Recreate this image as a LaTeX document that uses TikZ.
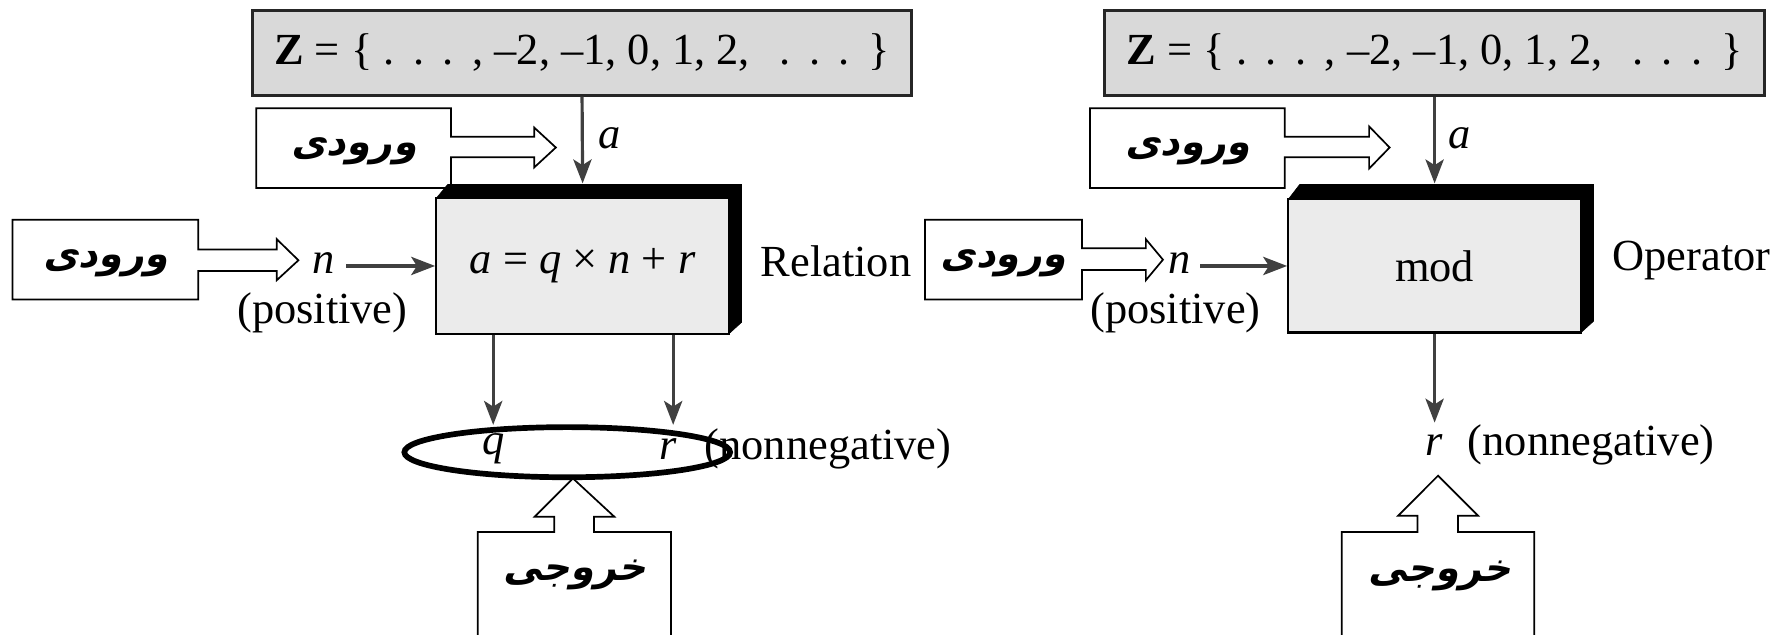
\documentclass[tikz,border=0pt]{standalone}
\usepackage{fontspec}
\setmainfont{Liberation Serif}[ItalicFont={Liberation Serif Italic},BoldFont={Liberation Serif Bold}]
\newfontfamily\arabicfont[Script=Arabic,FakeSlant=0.2]{DejaVu Sans Bold}
\TeXXeTstate=1
\usetikzlibrary{arrows.meta}
\definecolor{zgray}{RGB}{217,217,217}
\definecolor{facegray}{RGB}{235,235,235}
\definecolor{arrowgray}{RGB}{64,64,64}
\tikzset{
  arr/.style={draw=arrowgray, line width=2.8pt, -{Stealth[length=21pt,width=16pt,inset=5pt]}},
  callout/.style={draw=black, line width=1.5pt, fill=white, line join=miter},
  zbox/.style={draw=black!85, line width=2.5pt, fill=zgray, inner sep=0pt, font=\fontsize{39}{44}\selectfont},
  face/.style={draw=black, line width=2pt, fill=facegray, inner sep=0pt, font=\fontsize{39}{44}\selectfont},
  shadow/.style={fill=black, draw=black, line width=0.5pt},
  lbl/.style={font=\fontsize{39}{44}\selectfont, inner sep=0pt},
  fa/.style={font=\arabicfont\fontsize{34}{40}\selectfont, inner sep=0pt},
  ring/.style={draw=black, line width=5pt},
}
\newcommand{\zset}{\textbf{Z} = \{ .\,\ .\,\ .\,\ , –2, –1, 0, 1, 2, \ \,.\,\ .\,\ .\,\ \}}
\begin{document}
\begin{tikzpicture}[x=1pt,y=-1pt]
\useasboundingbox (0,0) rectangle (1568,557);
% ================= LEFT =================
\node[zbox, minimum width=578pt, minimum height=74pt] (zL) at (511,46.5) {\zset};
% input callout top
\draw[callout] (225,95) -- (396,95) -- (396,120) -- (469,120) -- (469,112) -- (488,129.5) -- (469,147) -- (469,138) -- (396,138) -- (396,165) -- (225,165) -- cycle;
\node[fa] (inLa) at (311,133) {\beginR ورودی\endR};
% input callout left
\draw[callout] (11,193) -- (174,193) -- (174,219) -- (243,219) -- (243,210) -- (262,228.5) -- (243,246) -- (243,238) -- (174,238) -- (174,263) -- (11,263) -- cycle;
\node[fa] (inLn) at (93,231) {\beginR ورودی\endR};
% main box with 3D shadow
\draw[shadow] (383,174) -- (393,162) -- (651,162) -- (651,283) -- (640,293) -- (640,174) -- cycle;
\node[face, minimum width=257pt, minimum height=119pt] (faceL) at (511.5,233.5) {\textit{a} = \textit{q} × \textit{n} + \textit{r}};
\coordinate (topL) at (511.5,161);
\node[lbl] (aL) at (535,121) {\textit{a}};
\node[lbl] (nL) at (284,231) {\textit{n}};
\node[lbl] (posL) at (283,275) {(positive)};
\node[lbl] (relL) at (734,229) {Relation};
\node[lbl] (qL) at (433,394) {\textit{q}};
\node[lbl] (rL) at (587,394) {\textit{r}};
\node[lbl] (nonL) at (727,394) {(nonnegative)};
\coordinate (qtip) at (433,373);
\coordinate (rtip) at (591,373);
\draw[arr] (zL.south) -- (topL);
\draw[arr] ([xshift=10pt]nL.east |- faceL.west) -- (faceL.west);
\draw[arr] (faceL.south -| qtip) -- (qtip);
\draw[arr] (faceL.south -| rtip) -- (rtip);
\draw[ring] (498,397) ellipse [x radius=143pt, y radius=22pt];
% output callout
\draw[callout] (419.5,560) -- (419.5,467) -- (486.6,467) -- (486.6,453.6) -- (469.4,453.6) -- (503,420) -- (539.3,453.6) -- (521.5,453.6) -- (521.5,467) -- (589,467) -- (589,560);
\node[fa] (outL) at (505,505) {\beginR خروجی\endR};
% ================= RIGHT =================
\node[zbox, minimum width=579pt, minimum height=75pt] (zR) at (1259.5,46.5) {\zset};
\draw[callout] (957,95) -- (1128,95) -- (1128,120) -- (1202,120) -- (1202,111) -- (1220,129.5) -- (1202,148) -- (1202,138) -- (1128,138) -- (1128,165) -- (957,165) -- cycle;
\node[fa] (inRa) at (1043,133) {\beginR ورودی\endR};
\draw[callout] (812,193) -- (950,193) -- (950,218) -- (1006,218) -- (1006,210) -- (1021,228) -- (1006,246) -- (1006,237) -- (950,237) -- (950,263) -- (812,263) -- cycle;
\node[fa] (inRn) at (881,231) {\beginR ورودی\endR};
\draw[shadow] (1131,175) -- (1141,162) -- (1399,162) -- (1399,282) -- (1388,292) -- (1388,175) -- cycle;
\node[face, minimum width=257pt, minimum height=117pt] (faceR) at (1259.5,233.5) {mod};
\coordinate (topR) at (1259.5,161);
\node[lbl] (aR) at (1281,121) {\textit{a}};
\node[lbl] (nR) at (1036,231) {\textit{n}};
\node[lbl] (posR) at (1032,275) {(positive)};
\node[lbl] (opR) at (1485,229) {Operator};
\node[lbl] (rR) at (1259,391) {\textit{r}};
\node[lbl] (nonR) at (1397,391) {(nonnegative)};
\coordinate (rtipR) at (1259.5,371);
\draw[arr] (zR.south) -- (topR);
\draw[arr] ([xshift=8pt]nR.east |- faceR.west) -- (faceR.west);
\draw[arr] (faceR.south) -- (rtipR);
\draw[callout] (1178,560) -- (1178,467) -- (1244.5,467) -- (1244.5,452.7) -- (1227.6,452.7) -- (1262.5,417.6) -- (1297.6,452.7) -- (1280,452.7) -- (1280,467) -- (1347,467) -- (1347,560);
\node[fa] (outR) at (1264,506) {\beginR خروجی\endR};
\end{tikzpicture}
\end{document}
